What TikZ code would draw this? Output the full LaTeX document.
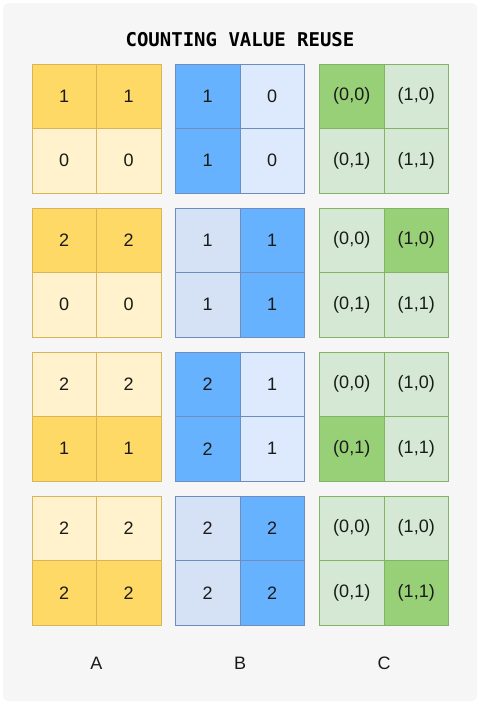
\documentclass[tikz,border=0pt]{standalone}
\usepackage{fontspec}
\setmainfont{Liberation Sans}
\newfontfamily\titlefont{DejaVu Sans Mono}
\definecolor{bgc}{HTML}{F6F6F6}
\definecolor{ydark}{HTML}{FFD966}
\definecolor{ylight}{HTML}{FFF2CC}
\definecolor{ystroke}{HTML}{D6B656}
\definecolor{bdark}{HTML}{66B2FF}
\definecolor{blight}{HTML}{DDE9FD}
\definecolor{blightb}{HTML}{D5E1F4}
\definecolor{bstroke}{HTML}{6C8EBF}
\definecolor{gdark}{HTML}{97D077}
\definecolor{glight}{HTML}{D5E8D4}
\definecolor{gstroke}{HTML}{82B366}
\definecolor{txt}{HTML}{1A1A1A}
\tikzset{
  cell/.style={draw, line width=1pt, minimum width=64.5pt, minimum height=64.5pt,
    inner sep=0pt, anchor=center, text=txt, font=\fontsize{18}{21}\selectfont},
  ycell/.style={cell, draw=ystroke},
  bcell/.style={cell, draw=bstroke},
  gcell/.style={cell, draw=gstroke},
  lbl/.style={text=txt, font=\fontsize{18}{21}\selectfont},
  ttl/.style={text=black, font=\titlefont\bfseries\fontsize{19}{22}\selectfont}
}
\begin{document}
\begin{tikzpicture}[x=1pt,y=-1pt]
\useasboundingbox (0,0) rectangle (480,704);
\fill[white] (0,0) rectangle (480,704);
\fill[bgc, rounded corners=6pt] (3,3) rectangle (477,701);
\node[ttl] (title) at (240,40) {COUNTING VALUE REUSE};
% grids: name / left x / top y / style / fills TL TR BL BR / texts TL TR BL BR
\foreach \g/\gx/\gy/\s/\fa/\fb/\fc/\fd/\ta/\tb/\tc/\td in {
  a1/32/64/ycell/ydark/ydark/ylight/ylight/1/1/0/0,
  b1/175.5/64/bcell/bdark/blight/bdark/blight/1/0/1/0,
  c1/319.5/64/gcell/gdark/glight/glight/glight/{(0,0)}/{(1,0)}/{(0,1)}/{(1,1)},
  a2/32/208/ycell/ydark/ydark/ylight/ylight/2/2/0/0,
  b2/175.5/208/bcell/blightb/bdark/blightb/bdark/1/1/1/1,
  c2/319.5/208/gcell/glight/gdark/glight/glight/{(0,0)}/{(1,0)}/{(0,1)}/{(1,1)},
  a3/32/352/ycell/ylight/ylight/ydark/ydark/2/2/1/1,
  b3/175.5/352/bcell/bdark/blight/bdark/blight/2/1/2/1,
  c3/319.5/352/gcell/glight/glight/gdark/glight/{(0,0)}/{(1,0)}/{(0,1)}/{(1,1)},
  a4/32/496/ycell/ylight/ylight/ydark/ydark/2/2/2/2,
  b4/175.5/496/bcell/blightb/bdark/blightb/bdark/2/2/2/2,
  c4/319.5/496/gcell/glight/glight/glight/gdark/{(0,0)}/{(1,0)}/{(0,1)}/{(1,1)}
}{
  \node[\s, fill=\fa] (\g-tl) at (\gx+32.25, \gy+32.25) {\ta};
  \node[\s, fill=\fb] (\g-tr) at (\gx+96.75, \gy+32.25) {\tb};
  \node[\s, fill=\fc] (\g-bl) at (\gx+32.25, \gy+96.75) {\tc};
  \node[\s, fill=\fd] (\g-br) at (\gx+96.75, \gy+96.75) {\td};
}
\node[lbl] (labA) at (96.5,663) {A};
\node[lbl] (labB) at (240,663) {B};
\node[lbl] (labC) at (384,663) {C};
\end{tikzpicture}
\end{document}
